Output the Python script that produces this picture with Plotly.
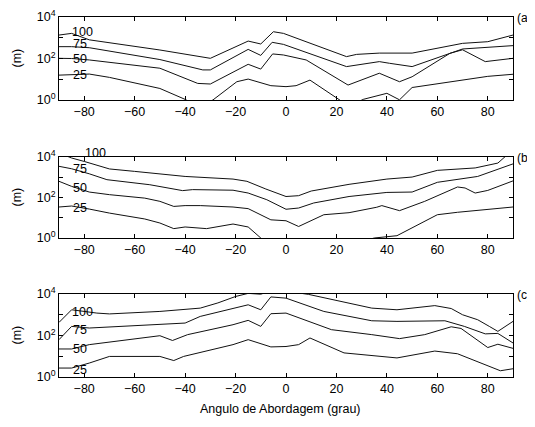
import math
import plotly.graph_objects as go

# ---------------- data (x: approach angle in degrees, y: distance in m) ----------------
# Panel (a)
a_x_100 = [-90, -85, -78, -50, -30, -15, -10, -5, -1, 24, 28, 37, 50, 70, 80, 90]
a_y_100 = [1349, 1622, 794, 257, 102, 692, 501, 1950, 1622, 123, 158, 182, 182, 537, 646, 1349]
a_x_75 = [-90, -85, -78, -50, -33, -30, -15, -10, -5.5, -1, 24, 37, 41, 50, 70, 80, 90]
a_y_75 = [372, 372, 331, 89, 28.2, 28.2, 275, 141, 603, 479, 40.7, 70.8, 58.9, 40.7, 288, 347, 417]
a_x_50 = [-90, -85, -78, -50, -35, -30, -15, -10, -5.3, -1, 8, 24.6, 37, 45, 50, 65, 70, 74, 79, 90]
a_y_50 = [102, 100, 85, 34, 6.3, 5.9, 52.5, 30.9, 166, 148, 85, 5.25, 19.5, 7.6, 13.2, 178, 263, 148, 70.8, 102]
a_x_25 = [-90, -85, -78, -70, -50, -40, -35, -29, -19.5, -15, -6, 0, 4, 9.5, 20, 25, 30.6, 37, 40, 45, 50, 80, 90]
a_y_25 = [15.8, 16.6, 17.8, 12.3, 3.6, 1.07, 0.5, 1.0, 7.6, 10.2, 4.9, 4.4, 4.9, 9.1, 1.2, 0.5, 1.07, 1.74, 2.1, 1.02, 4.0, 13.8, 17.4]

# Panel (b)
b_x_100 = [-90, -85, -80, -70, -60, -40, -21, -15.5, -8, 0, 5, 10, 25, 40, 50, 60, 75, 84, 87, 90]
b_y_100 = [15849, 8913, 6026, 2570, 1950, 1096, 813, 631, 263, 112, 123, 209, 447, 813, 1023, 2188, 2884, 5012, 10715, 19953]
b_x_75 = [-90, -85, -78, -71, -54, -41, -37, -21, -15, -7.6, 0, 5, 11, 25, 40, 45, 50, 60, 76, 90]
b_y_75 = [3467, 2630, 1479, 759, 427, 219, 245, 229, 166, 77.6, 26.3, 30.2, 53.7, 112, 178, 178, 186, 562, 1096, 4571]
b_x_50 = [-90, -85, -78, -70, -56, -50, -44.5, -40, -34, -21, -15, -6, 0, 5, 15, 25, 36, 38, 45, 55, 68, 71, 75, 80, 90]
b_y_50 = [631, 355, 186, 138, 93.3, 64.6, 36.3, 39.8, 39.8, 33.9, 28.2, 7.9, 7.1, 3.7, 14.1, 17.8, 33.1, 39.8, 22.4, 64.6, 331, 295, 166, 224, 661]
b_x_25 = [-90, -85, -78, -70, -56, -50, -44.5, -40, -31.5, -21, -15, -10, -5, 20, 35, 40, 44, 60, 68, 90]
b_y_25 = [33.9, 38, 26.9, 17, 8.7, 5.5, 2.9, 3.5, 2.9, 4.9, 3.5, 1.0, 0.32, 0.32, 1.0, 1.2, 1.3, 14.1, 18.6, 33.9]

# Panel (c)
c_x_100 = [-90, -85, -75, -70, -50, -34, -27, -20, -15, -10, -5, 0, 5, 9, 34, 44, 59, 65.5, 70, 76, 80.6, 84, 90]
c_y_100 = [427, 1738, 1202, 1096, 1445, 2089, 3715, 7586, 10715, 9772, 15849, 14125, 11220, 9550, 2089, 1738, 2754, 1995, 1000, 575, 275, 158, 479]
c_x_75 = [-90, -85, -78, -40, -34, -15, -10, -6, 0, 15, 34, 44, 63, 70.7, 79, 84, 90]
c_y_75 = [63, 275, 229, 398, 832, 3020, 1738, 7244, 6310, 1445, 513, 479, 513, 275, 120, 126, 43.7]
c_x_50 = [-90, -85, -78, -50, -45, -39, -21, -15, -10, -6, 0, 18, 34, 45, 55, 65.5, 69.4, 80, 84, 90]
c_y_50 = [22.4, 22.4, 36.3, 97.7, 57.5, 110, 331, 537, 275, 1122, 1202, 191, 110, 70.8, 110, 263, 219, 26.3, 38, 24]
c_x_25 = [-90, -85, -78, -70, -50, -44.5, -40.6, -21, -15, -6, 0, 5, 9.5, 23, 44, 59, 68, 80, 85, 90]
c_y_25 = [2.7, 2.7, 4.7, 9.8, 9.8, 6.2, 9.8, 36.3, 63, 28.2, 29.5, 36.3, 75.9, 14.5, 8.3, 17.8, 13.2, 3.7, 2.0, 2.5]

levels = ["100", "75", "50", "25"]
panels = [
    ("(a)", [(a_x_100, a_y_100), (a_x_75, a_y_75), (a_x_50, a_y_50), (a_x_25, a_y_25)]),
    ("(b)", [(b_x_100, b_y_100), (b_x_75, b_y_75), (b_x_50, b_y_50), (b_x_25, b_y_25)]),
    ("(c)", [(c_x_100, c_y_100), (c_x_75, c_y_75), (c_x_50, c_y_50), (c_x_25, c_y_25)]),
]
# contour label positions (x in degrees, y in m)
label_x = [-80.5, -81.7, -81.7, -81.7]
label_y = {
    "(a)": [1950, 480, 91, 16],
    "(b)": [15800, 2570, 295, 30],
    "(c)": [1290, 178, 22.4, 2.24],
}

x_ticks = [-80, -60, -40, -20, 0, 20, 40, 60, 80]
y_tickvals = [1, 100, 10000]
y_ticktext = ["10<sup>0</sup>", "10<sup>2</sup>", "10<sup>4</sup>"]
y_minorvals = [10, 1000]
Y_DECADES = 4  # log axis spans 10^0 .. 10^4

# The page body has an 8px margin, so the figure is laid out 8px smaller
OFF = 8
W, H = 535 - OFF, 427 - OFF
FONT = "Liberation Sans, Arial, sans-serif"
# screen-pixel extents of each plot area (top, bottom) and horizontal extent
rows_px = [(17, 100), (157, 238), (294, 377)]
x_px = (59, 513)


def px_x(p):
    return (p - OFF) / W


def px_y(p):
    return 1 - (p - OFF) / H


fig = go.Figure()
annotations = []
for i, (tag, series) in enumerate(panels):
    n = "" if i == 0 else str(i + 1)
    xa, ya = "x" + n, "y" + n
    top, bot = rows_px[i]
    d0, d1 = px_y(bot), px_y(top)
    for (xs, ys) in series:
        fig.add_trace(go.Scatter(x=xs, y=ys, mode="lines", xaxis=xa, yaxis=ya,
                                 line=dict(color="#111111", width=1), showlegend=False,
                                 hoverinfo="skip"))
    for lv, lx, ly in zip(levels, label_x, label_y[tag]):
        ey = math.log10(ly)
        if ey <= Y_DECADES:
            annotations.append(dict(x=lx, y=ey, xref=xa, yref=ya, text=lv, showarrow=False,
                                    font=dict(family=FONT, size=12.5, color="black")))
        else:  # label sits above the plot area: place it in paper units
            annotations.append(dict(x=px_x(x_px[0] + (lx + 90) / 180 * (x_px[1] - x_px[0])),
                                    y=d0 + ey / Y_DECADES * (d1 - d0),
                                    xref="paper", yref="paper", text=lv, showarrow=False,
                                    font=dict(family=FONT, size=12.5, color="black")))
    annotations.append(dict(x=px_x(524), y=px_y(top + 1), xref="paper", yref="paper",
                            text=tag, showarrow=False, xanchor="center", yanchor="middle",
                            font=dict(family=FONT, size=12, color="black")))
    annotations.append(dict(x=px_x(16), y=px_y((top + bot) / 2), xref="paper", yref="paper",
                            text="(m)", textangle=-90, showarrow=False,
                            xanchor="center", yanchor="middle",
                            font=dict(family=FONT, size=12.5, color="black")))
    axis_common = dict(showline=True, linecolor="black", linewidth=1, mirror="ticks",
                       ticks="inside", ticklen=4, tickcolor="black", showgrid=False,
                       zeroline=False, automargin=False,
                       tickfont=dict(family=FONT, size=12.5, color="black"))
    xdict = dict(domain=[px_x(x_px[0]), px_x(x_px[1])], range=[-90, 90], tickvals=x_ticks,
                 anchor=ya, **axis_common)
    ydict = dict(domain=[d0, d1], type="log", range=[0, Y_DECADES],
                 tickvals=y_tickvals, ticktext=y_ticktext, anchor=xa,
                 minor=dict(tickvals=y_minorvals, ticks="inside", ticklen=4, tickcolor="black",
                            showgrid=False),
                 **axis_common)
    fig.update_layout(**{"xaxis" + n: xdict, "yaxis" + n: ydict})

annotations.append(dict(x=px_x(280), y=px_y(409), xref="paper", yref="paper",
                        text="Angulo de Abordagem (grau)", showarrow=False,
                        xanchor="center", yanchor="middle",
                        font=dict(family=FONT, size=12.5, color="black")))

fig.update_layout(width=W, height=H, margin=dict(l=0, r=0, t=0, b=0, autoexpand=False),
                  paper_bgcolor="white", plot_bgcolor="white",
                  annotations=annotations, font=dict(family=FONT, color="black"))
fig.write_html("out.html")
